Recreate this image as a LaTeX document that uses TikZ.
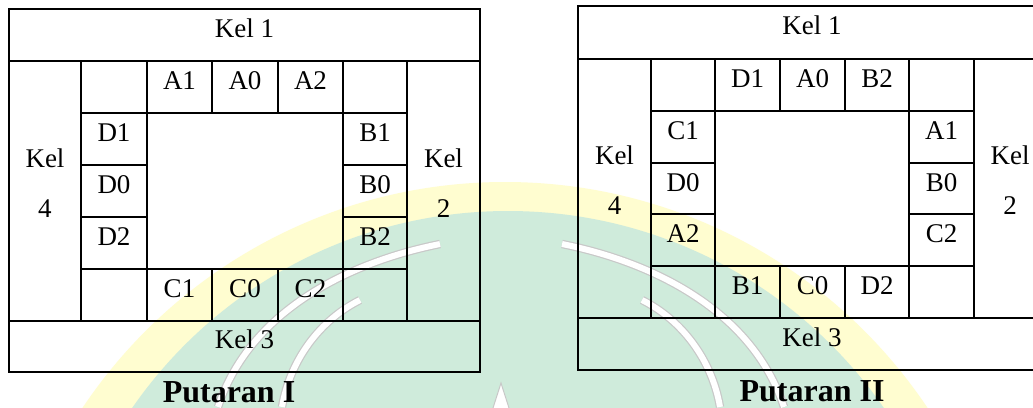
\documentclass[tikz,border=0pt]{standalone}
\usepackage{fontspec}
\setmainfont{Liberation Serif}
\definecolor{wmgreen}{RGB}{207,235,219}
\definecolor{wmyellow}{RGB}{255,253,208}
\definecolor{wmgrey}{RGB}{200,200,200}
\tikzset{
  grid/.style={line width=2pt, draw=black},
  cell/.style={anchor=base, inner sep=0pt, font=\fontsize{27}{32}\selectfont},
  kelside/.style={align=center, inner sep=0pt, anchor=center, font=\fontsize{27}{50}\selectfont},
  titletext/.style={anchor=base, inner sep=0pt, font=\fontsize{32}{38}\selectfont\bfseries},
  wmband/.style={draw=wmgrey, line width=1.2pt, double=white, double distance=6pt},
}
\begin{document}
\begin{tikzpicture}[x=1pt,y=-1pt]
\useasboundingbox (0,0) rectangle (1033,407);
\clip (0,0) rectangle (1033,407);
\fill[white] (0,0) rectangle (1033,407);
% watermark
\fill[wmyellow] (505,690) circle[radius=508];
\fill[wmgreen] (508,668) circle[radius=457];
\draw[wmband] (440,244) .. controls (350,262) and (250,310) .. (218,407);
\draw[wmband] (360,300) .. controls (320,320) and (290,360) .. (282,407);
\draw[wmband] (562,244) .. controls (652,262) and (752,310) .. (784,407);
\draw[wmband] (642,300) .. controls (682,320) and (712,360) .. (720,407);
\filldraw[draw=wmgrey, fill=white, line width=1pt] (493,408) -- (501,383) -- (509,408);

% ---------- Putaran I ----------
\draw[grid] (9,9) rectangle (480,372);
\draw[grid] (9,61) -- (480,61) (9,321) -- (480,321);
\draw[grid] (81,61) -- (81,321) (407,61) -- (407,321);
\draw[grid] (81,113) -- (407,113) (81,269) -- (407,269);
\draw[grid] (147,61) -- (147,321) (343,61) -- (343,321);
\draw[grid] (212,61) -- (212,113) (278,61) -- (278,113) (212,269) -- (212,321) (278,269) -- (278,321);
\draw[grid] (81,165) -- (147,165) (81,217) -- (147,217) (343,165) -- (407,165) (343,217) -- (407,217);

\node[cell] (p1k1) at (244.5,37) {Kel 1};
\node[cell] (p1a1) at (179.5,89) {A1};
\node[cell] (p1a0) at (245,89) {A0};
\node[cell] (p1a2) at (310.5,89) {A2};
\node[cell] (p1d1) at (114,141) {D1};
\node[cell] (p1d0) at (114,193) {D0};
\node[cell] (p1d2) at (114,245) {D2};
\node[cell] (p1b1) at (375,141) {B1};
\node[cell] (p1b0) at (375,193) {B0};
\node[cell] (p1b2) at (375,245) {B2};
\node[cell] (p1c1) at (179.5,297) {C1};
\node[cell] (p1c0) at (245,297) {C0};
\node[cell] (p1c2) at (310.5,297) {C2};
\node[cell] (p1k3) at (244.5,348) {Kel 3};
\node[kelside] (p1k4) at (45,182.8) {Kel\\4};
\node[kelside] (p1k2) at (443.5,182.8) {Kel\\2};
\node[titletext] (p1t) at (229,402) {Putaran I};

% ---------- Putaran II ----------
\draw[grid] (578,6) rectangle (1046,370);
\draw[grid] (578,59) -- (1046,59) (578,318) -- (1046,318);
\draw[grid] (651,59) -- (651,318) (974,59) -- (974,318);
\draw[grid] (651,111) -- (974,111) (651,266) -- (974,266);
\draw[grid] (715,59) -- (715,318) (909,59) -- (909,318);
\draw[grid] (780,59) -- (780,111) (845,59) -- (845,111) (780,266) -- (780,318) (845,266) -- (845,318);
\draw[grid] (651,163) -- (715,163) (651,214) -- (715,214) (909,163) -- (974,163) (909,214) -- (974,214);

\node[cell] (p2k1) at (812,34) {Kel 1};
\node[cell] (p2d1) at (747.5,87) {D1};
\node[cell] (p2a0) at (812.5,87) {A0};
\node[cell] (p2b2) at (877,87) {B2};
\node[cell] (p2c1) at (683,139) {C1};
\node[cell] (p2d0) at (683,191) {D0};
\node[cell] (p2a2) at (683,242) {A2};
\node[cell] (p2a1) at (941.5,139) {A1};
\node[cell] (p2b0) at (941.5,191) {B0};
\node[cell] (p2c2) at (941.5,242) {C2};
\node[cell] (p2b1) at (747.5,294) {B1};
\node[cell] (p2c0) at (812.5,294) {C0};
\node[cell] (p2d2) at (877,294) {D2};
\node[cell] (p2k3) at (812,346) {Kel 3};
\node[kelside] (p2k4) at (614.5,179.8) {Kel\\4};
\node[kelside] (p2k2) at (1010,179.8) {Kel\\2};
\node[titletext] (p2t) at (812,401) {Putaran II};
\end{tikzpicture}
\end{document}
